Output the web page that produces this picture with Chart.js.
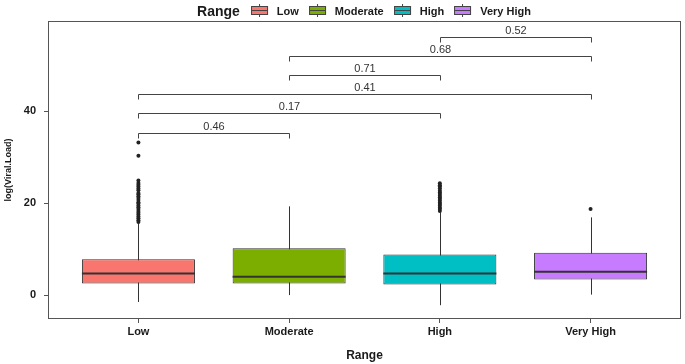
<!DOCTYPE html>
<html>
<head>
<meta charset="utf-8">
<script src="https://cdn.jsdelivr.net/npm/chart.js@4.4.1/dist/chart.umd.min.js"></script>
<style>
    body { margin: 0; background: #fff; }
    #wrap { position: relative; width: 685px; height: 364px; }
    #legend {
        position: absolute; top: 0; left: 369px; transform: translateX(-50%);
        height: 21px; display: flex; align-items: center; white-space: nowrap;
        font-family: "Liberation Sans", Arial, sans-serif; color: #1a1a1a;
    }
    #legend .title { font-size: 14px; font-weight: bold; margin-right: 11px; }
    #legend .lab { font-size: 11px; font-weight: bold; margin: 0 10px 0 9px; }
    #legend .key {
        position: relative; width: 15px; height: 7px; border: 1px solid #444;
    }
    #legend .key::before, #legend .key::after {
        content: ""; position: absolute; left: 7px; width: 1px; height: 2px; background: #444;
    }
    #legend .key::before { top: -3px; }
    #legend .key::after { bottom: -3px; }
    #legend .key i { position: absolute; left: 0; right: 0; top: 3px; height: 1px; background: #444; }
</style>
</head>
<body>
<div id="wrap">
    <canvas id="myChart" width="685" height="364"></canvas>
    <div id="legend"></div>
</div>
<script>
// data
const categories = ['Low', 'Moderate', 'High', 'Very High'];
const colors = ['#F8766D', '#7CAE00', '#00BFC4', '#C77CFF'];
const q1 = [2.5, 2.5, 2.3, 3.4];
const medians = [4.7, 4.0, 4.7, 5.1];
const q3 = [7.8, 10.2, 8.8, 9.2];
const whiskerLow = [-1.5, 0.0, -2.2, 0.1];
const whiskerHigh = [15.6, 19.3, 18.0, 16.9];
const outliersLow = [15.9, 16.3, 16.7, 17.1, 17.5, 17.9, 18.3, 18.7, 19.1, 19.5, 19.9, 20.2,
    20.7, 21.1, 21.5, 21.9, 22.2, 22.8, 23.2, 23.6, 24.0, 24.4, 24.9, 30.3, 33.2];
const outliersModerate = [];
const outliersHigh = [18.3, 18.7, 19.0, 19.4, 19.8, 20.1, 20.5, 20.9, 21.2, 21.6, 22.0,
    22.3, 22.7, 23.2, 23.6, 23.9, 24.3];
const outliersVeryHigh = [18.7];
const yTicks = [0, 20, 40];

// comparisons (p values)
const pairStart = [0, 0, 0, 1, 1, 2];
const pairEnd = [1, 2, 3, 2, 3, 3];
const pLabels = ['0.46', '0.17', '0.41', '0.71', '0.68', '0.52'];
const bracketY = [35.2, 39.5, 43.7, 47.8, 51.9, 56.1];

const FONT = '"Liberation Sans", Arial, sans-serif';
const INK = '#333';

// Legend
const legend = document.getElementById('legend');
legend.innerHTML = '<span class="title">Range</span>' + categories.map((c, i) =>
    '<span class="key" style="background:' + colors[i] + '"><i></i></span><span class="lab">' + c + '</span>'
).join('');

const outlierPoints = [];
[outliersLow, outliersModerate, outliersHigh, outliersVeryHigh].forEach((arr, i) => {
    arr.forEach(v => outlierPoints.push({ x: i, y: v }));
});

// whiskers, medians, panel border and brackets
const boxExtras = {
    id: 'boxExtras',
    beforeDatasetsDraw(chart) {
        const { ctx, scales: { x, y } } = chart;
        ctx.save();
        ctx.strokeStyle = INK;
        ctx.lineWidth = 1;
        categories.forEach((c, i) => {
            const px = Math.round(x.getPixelForValue(i)) + 0.5;
            ctx.beginPath();
            ctx.moveTo(px, y.getPixelForValue(whiskerLow[i]));
            ctx.lineTo(px, y.getPixelForValue(whiskerHigh[i]));
            ctx.stroke();
        });
        ctx.restore();
    },
    afterDatasetsDraw(chart) {
        const { ctx, chartArea: a, scales: { x, y } } = chart;
        const bars = chart.getDatasetMeta(0).data;
        ctx.save();
        // medians
        ctx.strokeStyle = INK;
        ctx.lineWidth = 2;
        categories.forEach((c, i) => {
            const half = bars[i].width / 2;
            const px = x.getPixelForValue(i);
            const py = y.getPixelForValue(medians[i]);
            ctx.beginPath();
            ctx.moveTo(px - half, py);
            ctx.lineTo(px + half, py);
            ctx.stroke();
        });
        // panel border
        ctx.strokeStyle = '#555';
        ctx.lineWidth = 1;
        ctx.strokeRect(a.left + 0.5, a.top + 0.5, a.right - a.left - 1, a.bottom - a.top - 1);
        // brackets
        ctx.strokeStyle = '#444';
        ctx.fillStyle = INK;
        ctx.font = '11px ' + FONT;
        ctx.textAlign = 'center';
        ctx.textBaseline = 'bottom';
        pLabels.forEach((lab, k) => {
            const x1 = Math.round(x.getPixelForValue(pairStart[k])) + 0.5;
            const x2 = Math.round(x.getPixelForValue(pairEnd[k])) + 0.5;
            const py = Math.round(y.getPixelForValue(bracketY[k])) + 0.5;
            ctx.beginPath();
            ctx.moveTo(x1, py + 5);
            ctx.lineTo(x1, py);
            ctx.lineTo(x2, py);
            ctx.lineTo(x2, py + 5);
            ctx.stroke();
            ctx.fillText(lab, (x1 + x2) / 2, py - 1);
        });
        ctx.restore();
    }
};

var ctx = document.getElementById('myChart').getContext('2d');
var myChart = new Chart(ctx, {
    type: 'bar',
    data: {
        datasets: [{
            label: 'box',
            data: categories.map((c, i) => ({ x: i, y: [q1[i], q3[i]] })),
            backgroundColor: colors,
            borderColor: INK,
            borderWidth: 1,
            borderSkipped: false,
            categoryPercentage: 1,
            barPercentage: 0.75
        }, {
            type: 'scatter',
            label: 'outliers',
            data: outlierPoints,
            pointRadius: 2,
            pointBackgroundColor: '#222',
            pointBorderWidth: 0
        }]
    },
    options: {
        responsive: false,
        animation: false,
        layout: { padding: { top: 21, right: 2, left: 0, bottom: 0 } },
        plugins: { legend: { display: false }, tooltip: { enabled: false } },
        scales: {
            x: {
                type: 'linear',
                min: -0.6,
                max: 3.6,
                offset: false,
                afterBuildTicks: s => { s.ticks = categories.map((c, i) => ({ value: i })); },
                afterFit: s => { s.height = 45; },
                ticks: {
                    callback: v => categories[v],
                    color: '#1a1a1a',
                    padding: 2,
                    font: { family: FONT, size: 11, weight: 'bold' }
                },
                grid: { drawOnChartArea: false, offset: false, tickLength: 4, color: '#555' },
                border: { display: false },
                title: {
                    display: true, text: 'Range', color: '#1a1a1a',
                    padding: { top: 0, bottom: 1 },
                    font: { family: FONT, size: 12, weight: 'bold' }
                }
            },
            y: {
                min: -5.2,
                max: 59.6,
                afterBuildTicks: s => { s.ticks = yTicks.map(v => ({ value: v })); },
                afterFit: s => { s.width = 48; },
                ticks: {
                    color: '#1a1a1a',
                    padding: 8,
                    font: { family: FONT, size: 11, weight: 'bold' }
                },
                grid: { drawOnChartArea: false, tickLength: 4, color: '#555' },
                border: { display: false },
                title: {
                    display: true, text: 'log(Viral.Load)', color: '#1a1a1a',
                    padding: { top: 3, bottom: 0 },
                    font: { family: FONT, size: 9, weight: 'bold' }
                }
            }
        }
    },
    plugins: [boxExtras]
});
</script>
</body>
</html>
